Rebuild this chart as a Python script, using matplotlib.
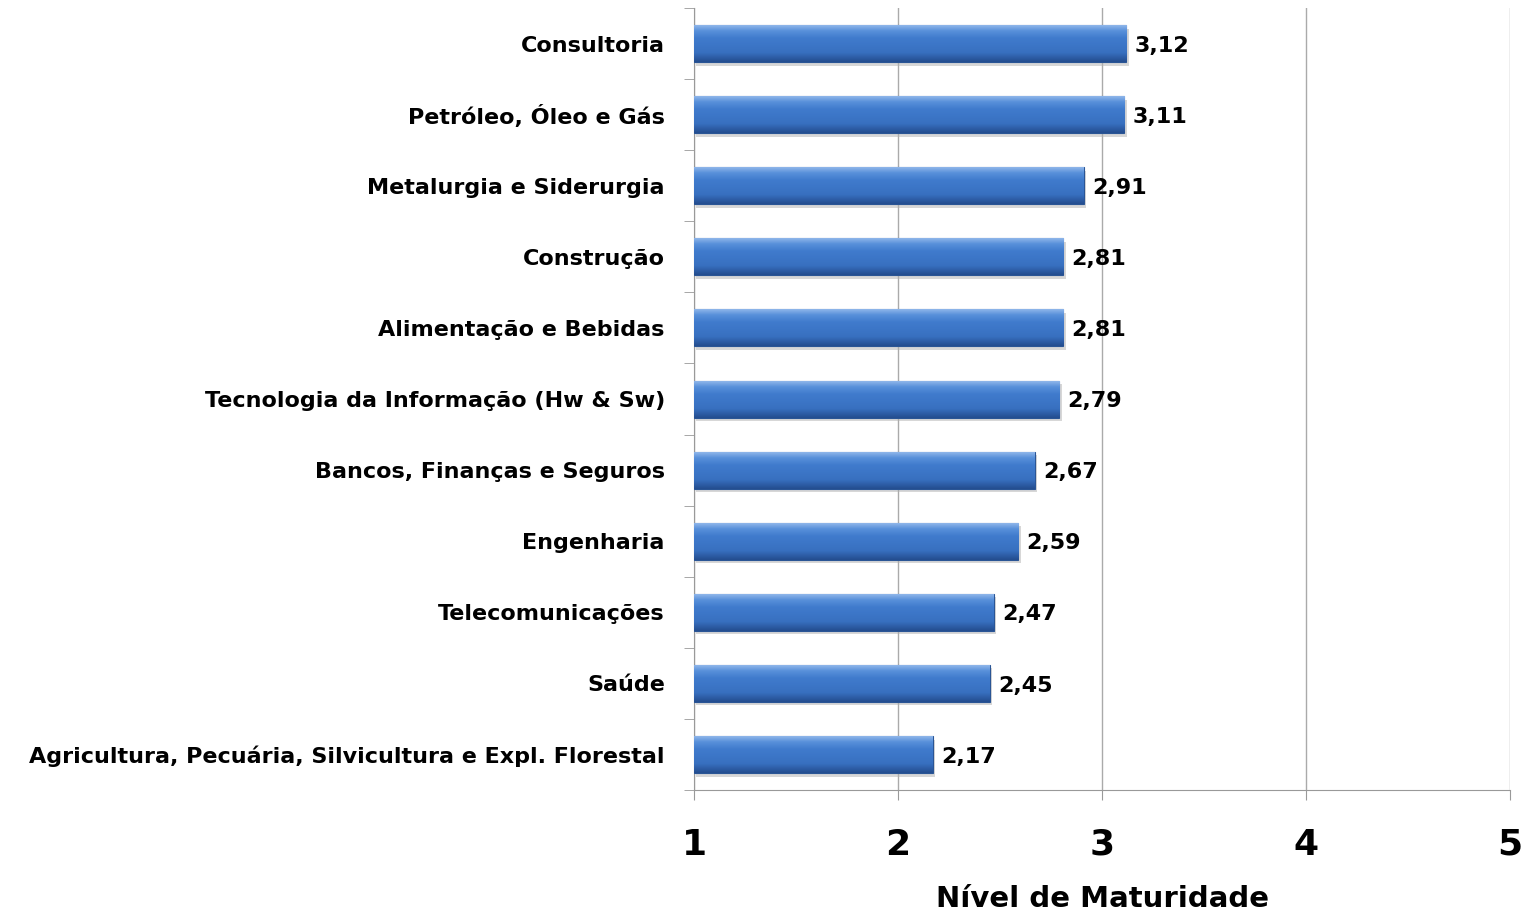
import numpy as np
import matplotlib.pyplot as plt
from matplotlib.colors import LinearSegmentedColormap

setores = ['Consultoria', 'Petróleo, Óleo e Gás', 'Metalurgia e Siderurgia',
           'Construção', 'Alimentação e Bebidas', 'Tecnologia da Informação (Hw & Sw)',
           'Bancos, Finanças e Seguros', 'Engenharia', 'Telecomunicações', 'Saúde',
           'Agricultura, Pecuária, Silvicultura e Expl. Florestal']
valores = [3.12, 3.11, 2.91, 2.81, 2.81, 2.79, 2.67, 2.59, 2.47, 2.45, 2.17]
x_ticks = [1, 2, 3, 4, 5]

plt.rcParams['font.family'] = ['DejaVu Sans']

fig = plt.figure(figsize=(15.24, 9.15), dpi=100)
ax = fig.add_axes([0.4554, 0.1366, 0.5354, 0.8546])

y = np.arange(len(setores))
cmap = LinearSegmentedColormap.from_list(
    'barra', [(0, '#8fb6ea'), (0.15, '#5890da'), (0.35, '#407bcd'),
              (0.75, '#3870c0'), (1, '#244d8f')])
grad = np.linspace(0, 1, 64).reshape(-1, 1)

bars = ax.barh(y, [v - 1 for v in valores], left=1, height=0.52, color='#3a74c4',
               edgecolor='#2a5595', linewidth=0.8, zorder=3)
for b in bars:
    x0, y0 = b.get_x(), b.get_y()
    w, h = b.get_width(), b.get_height()
    # sombra
    ax.add_patch(plt.Rectangle((x0 + 0.012, y0 + 0.05), w, h, color='#b0b0b0', alpha=0.5, zorder=2, lw=0))
    im = ax.imshow(grad, extent=[x0, x0 + w, y0 + h, y0], aspect='auto', cmap=cmap, zorder=4,
                   interpolation='bicubic')
    im.set_clip_path(b)

for yi, v in zip(y, valores):
    ax.text(v + 0.04, yi + 0.03, f'{v:.2f}'.replace('.', ','), va='center', ha='left',
            fontsize=16, fontweight='bold', zorder=5)

ax.set_xlim(1, 5)
ax.set_ylim(len(setores) - 0.5, -0.5)
ax.set_yticks(y)
ax.set_yticklabels(setores, fontsize=16, fontweight='bold')
ax.set_yticks(np.arange(len(setores) + 1) - 0.5, minor=True)
ax.tick_params(axis='y', which='major', length=0, pad=21)
ax.tick_params(axis='y', which='minor', length=7, color='#999999', direction='out')
ax.set_xticks(x_ticks)
ax.set_xticklabels([str(t) for t in x_ticks], fontsize=26, fontweight='bold')
ax.tick_params(axis='x', length=7, color='#999999', pad=20)
ax.set_xlabel('Nível de Maturidade', fontsize=21, fontweight='bold')
ax.xaxis.set_label_coords(0.5, -0.122)
ax.xaxis.grid(True, color='#aaaaaa', linewidth=1, zorder=0)
ax.set_axisbelow(True)

for s in ['top', 'right']:
    ax.spines[s].set_visible(False)
for s in ['left', 'bottom']:
    ax.spines[s].set_color('#999999')

fig.savefig('out.png', dpi=100)
